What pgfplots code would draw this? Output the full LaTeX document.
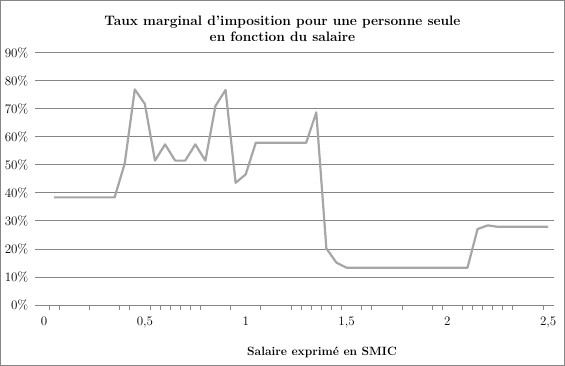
\documentclass[border=0pt]{standalone}
\usepackage{pgfplots}
\pgfplotsset{compat=1.18}
\definecolor{gridgray}{HTML}{868686}
\definecolor{linegray}{HTML}{A6A6A6}
\pgfplotstableread{
x y
0.05 38.4
0.10 38.4
0.15 38.4
0.20 38.4
0.25 38.4
0.30 38.4
0.35 38.4
0.40 50.5
0.45 76.9
0.50 71.7
0.55 51.5
0.60 57.3
0.65 51.5
0.70 51.5
0.75 57.3
0.80 51.5
0.85 71.0
0.90 76.7
0.95 43.6
1.00 46.6
1.05 57.9
1.10 57.9
1.15 57.9
1.20 57.9
1.25 57.9
1.30 57.9
1.35 68.7
1.40 20.2
1.45 15.1
1.50 13.3
1.55 13.3
1.60 13.3
1.65 13.3
1.70 13.3
1.75 13.3
1.80 13.3
1.85 13.3
1.90 13.3
1.95 13.3
2.00 13.3
2.05 13.3
2.10 13.3
2.15 27.1
2.20 28.4
2.25 27.9
2.30 27.9
2.35 27.9
2.40 27.9
2.45 27.9
2.50 27.9
}\tmdata
\begin{document}
\begin{tikzpicture}
\useasboundingbox (0pt,0pt) rectangle (565pt,366pt);
\draw[gridgray, line width=1pt] (0.5pt,0.5pt) rectangle (564.5pt,365.5pt);
\node[align=center, font=\fontsize{13.7}{16.5}\selectfont\bfseries] at (282.5pt,337pt)
  {Taux marginal d'imposition pour une personne seule\\en fonction du salaire};
\node[font=\fontsize{12}{14}\selectfont\bfseries] at (322pt,14pt) {Salaire exprimé en SMIC};
\begin{axis}[
  at={(35pt,61pt)}, anchor=south west,
  scale only axis, width=519pt, height=252.3pt,
  xmin=-0.045, xmax=2.529, ymin=0, ymax=90,
  axis x line=bottom, axis y line=left,
  x axis line style={gridgray, line width=0.8pt, -},
  y axis line style={draw=none},
  ymajorgrids, grid style={gridgray, line width=0.8pt},
  ytick={0,10,...,90},
  yticklabels={0\%,10\%,20\%,30\%,40\%,50\%,60\%,70\%,80\%,90\%},
  xtick={0,0.5,1,1.5,2,2.5},
  xticklabels={0,{0,5},1,{1,5},2,{2,5}},
  minor xtick={0.025,0.075,0.225,0.375,0.425,0.525,0.575,0.625,0.675,0.725,0.775,0.925,1.075,1.225,1.275,1.325,1.375,1.425,1.475,1.575,1.625,1.775,1.925,1.975,2.075,2.125,2.175,2.225,2.275,2.325,2.475},
  major x tick style={draw=none},
  major y tick style={draw=none},
  minor x tick style={gridgray, line width=0.8pt},
  minor tick length=5pt,
  tick align=outside,
  xticklabel style={font=\fontsize{13}{15}\selectfont, yshift=-4pt},
  yticklabel style={font=\fontsize{13}{15}\selectfont, xshift=1pt},
  clip=false,
]
\addplot[linegray, line width=2.2pt, line join=round] table[x=x,y=y] {\tmdata};
\end{axis}
\end{tikzpicture}
\end{document}
